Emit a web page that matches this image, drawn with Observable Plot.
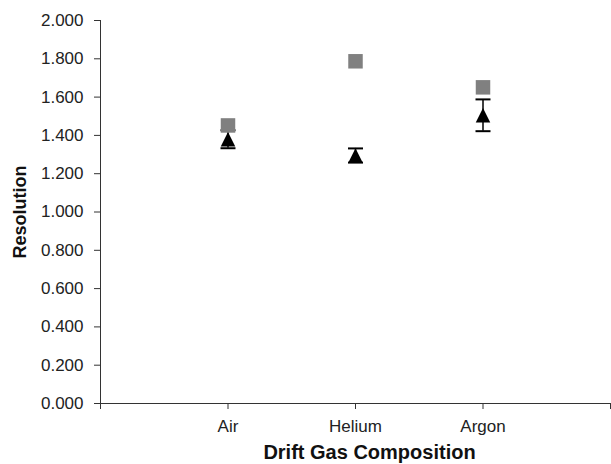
<!DOCTYPE html>
<html>
<head>
<meta charset="utf-8">
<script src="https://cdn.jsdelivr.net/npm/d3@7"></script>
<script src="https://cdn.jsdelivr.net/npm/@observablehq/plot@0.6"></script>
<style>
  html, body { margin: 0; padding: 0; background: #fff; }
</style>
</head>
<body>
<div id="chart"></div>
<script>
const categories = ["Air", "Helium", "Argon"];
const squareValues = [1.452, 1.787, 1.651];
const triangleValues = [1.38, 1.295, 1.505];
const triangleErrors = [0.047, 0.037, 0.083];
const yTickValues = [0, 0.2, 0.4, 0.6, 0.8, 1.0, 1.2, 1.4, 1.6, 1.8, 2.0];
const xLabel = "Drift Gas Composition";
const yLabel = "Resolution";

// category index positions 1..n on a linear axis with one empty slot on each side
const squares = categories.map((c, i) => ({pos: i + 1, value: squareValues[i]}));
const triangles = categories.map((c, i) => ({
  pos: i + 1, value: triangleValues[i],
  lo: triangleValues[i] - triangleErrors[i],
  hi: triangleValues[i] + triangleErrors[i]
}));
const xTicks = d3.range(0, categories.length + 2);

const triangleSymbol = {
  draw(ctx, size) {
    const s = Math.sqrt(size);
    ctx.moveTo(0, -s / 2);
    ctx.lineTo(s / 2, s / 2);
    ctx.lineTo(-s / 2, s / 2);
    ctx.closePath();
  }
};
const capSymbol = {
  draw(ctx, size) {
    const s = Math.sqrt(size);
    ctx.moveTo(-s / 2, 0);
    ctx.lineTo(s / 2, 0);
  }
};

const chart = Plot.plot({
  width: 611,
  height: 464,
  marginLeft: 100,
  marginRight: 1,
  marginTop: 20,
  marginBottom: 61,
  style: {fontFamily: "'Liberation Sans', Arial, Helvetica, sans-serif", color: "#222", background: "#fff"},
  x: {type: "linear", domain: [0, categories.length + 1]},
  y: {domain: [0, 2]},
  marks: [
    Plot.axisY({ticks: yTickValues, tickFormat: d3.format(".3f"), tickSize: 6, tickPadding: 11,
      fontSize: 17, label: null, stroke: "#333"}),
    Plot.axisX({ticks: xTicks, tickFormat: d => categories[d - 1] ?? "", tickSize: 6, tickPadding: 10,
      fontSize: 17, label: null, stroke: "#333"}),
    Plot.ruleX([0], {stroke: "#333"}),
    Plot.ruleY([0], {stroke: "#333"}),
    Plot.ruleX(triangles, {x: "pos", y1: "lo", y2: "hi", stroke: "#000", strokeWidth: 1.5}),
    Plot.dot(triangles, {x: "pos", y: "lo", symbol: capSymbol, r: 15 / Math.sqrt(Math.PI), fill: "none", stroke: "#000", strokeWidth: 2}),
    Plot.dot(triangles, {x: "pos", y: "hi", symbol: capSymbol, r: 15 / Math.sqrt(Math.PI), fill: "none", stroke: "#000", strokeWidth: 2}),
    Plot.dot(triangles, {x: "pos", y: "value", symbol: triangleSymbol, r: 14.5 / Math.sqrt(Math.PI), fill: "#000", stroke: "none"}),
    Plot.dot(squares, {x: "pos", y: "value", symbol: "square", r: 14.5 / Math.sqrt(Math.PI), fill: "#808080", stroke: "none"}),
    Plot.text([yLabel], {frameAnchor: "left", dx: -80.5, rotate: -90, fontSize: 18, fontWeight: "bold", fill: "#111", lineAnchor: "middle", textAnchor: "middle"}),
    Plot.text([xLabel], {frameAnchor: "bottom", dx: 14, dy: 49.5, fontSize: 20, fontWeight: "bold", fill: "#111", lineAnchor: "middle", textAnchor: "middle"})
  ]
});
document.getElementById("chart").appendChild(chart);
</script>
</body>
</html>
